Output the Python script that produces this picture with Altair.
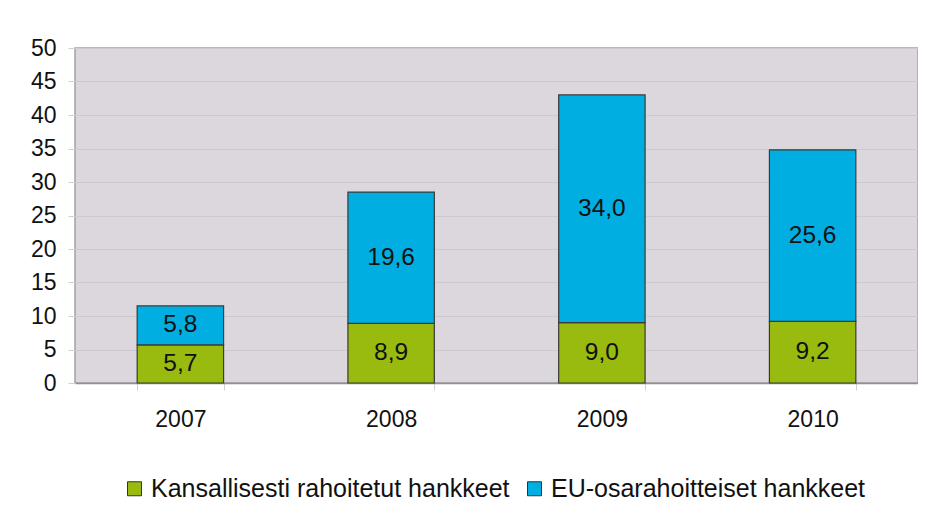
import altair as alt
import pandas as pd

years = ["2007", "2008", "2009", "2010"]
national = [5.7, 8.9, 9.0, 9.2]
eu = [5.8, 19.6, 34.0, 25.6]
series_names = ["Kansallisesti rahoitetut hankkeet", "EU-osarahoitteiset hankkeet"]
colors = ["#99BB0F", "#00AEE1"]

rows = []
for i, y in enumerate(years):
    rows.append({"year": y, "series": series_names[0], "order": 0, "value": national[i],
                 "start": 0.0, "end": national[i]})
    rows.append({"year": y, "series": series_names[1], "order": 1, "value": eu[i],
                 "start": national[i], "end": national[i] + eu[i]})
df = pd.DataFrame(rows)
df["mid"] = (df["start"] + df["end"]) / 2
df["label"] = df["value"].map(lambda v: f"{v:.1f}".replace(".", ","))

FONT = "Liberation Sans"

xscale = alt.Scale(paddingInner=0.59, paddingOuter=0.295)
yscale = alt.Scale(domain=[0, 50], nice=False)

xaxis = alt.Axis(labelAngle=0, labelFontSize=23, labelColor="#111111", labelPadding=18,
                 tickBand="extent", tickSize=7, tickColor="#D0D0D0",
                 domainColor="#909090", domainWidth=1.5, labelFont=FONT)
yaxis = alt.Axis(values=list(range(0, 51, 5)), labelFontSize=23, labelColor="#111111",
                 tickSize=7, tickColor="#D0D0D0", labelPadding=12, domain=False,
                 gridColor="#CFC9CF", gridWidth=1.2, labelFont=FONT)

bars = alt.Chart(df).mark_bar(stroke="#3A3A3A", strokeWidth=1.2).encode(
    x=alt.X("year:N", title=None, sort=years, scale=xscale, axis=xaxis),
    y=alt.Y("start:Q", title=None, scale=yscale, axis=yaxis),
    y2="end:Q",
    color=alt.Color("series:N", sort=series_names,
                    scale=alt.Scale(domain=series_names, range=colors),
                    legend=alt.Legend(title=None, orient="none", direction="horizontal",
                                      legendX=47, legendY=428, symbolType="square",
                                      symbolSize=196, symbolStrokeColor="#333333",
                                      symbolStrokeWidth=1, labelFontSize=25,
                                      labelColor="#111111", labelFont=FONT, labelLimit=0,
                                      columnPadding=12, symbolOffset=0, labelOffset=4)),
)

text = alt.Chart(df).mark_text(fontSize=24.5, color="#111111", font=FONT, baseline="middle").encode(
    x=alt.X("year:N", title=None, sort=years, scale=xscale, axis=xaxis),
    y=alt.Y("mid:Q", title=None, scale=yscale, axis=yaxis),
    text="label:N",
)

chart = alt.layer(bars, text).properties(
    width=843, height=335,
    background="white",
    padding={"left": 67, "top": 40, "right": 0, "bottom": 118},
    autosize=alt.AutoSizeParams(type="none"),
).configure_view(fill="#DCD6DD", stroke="#A3A3A3", strokeWidth=1.5)

chart.save("out.html", embed_options={"renderer": "svg", "actions": False})
